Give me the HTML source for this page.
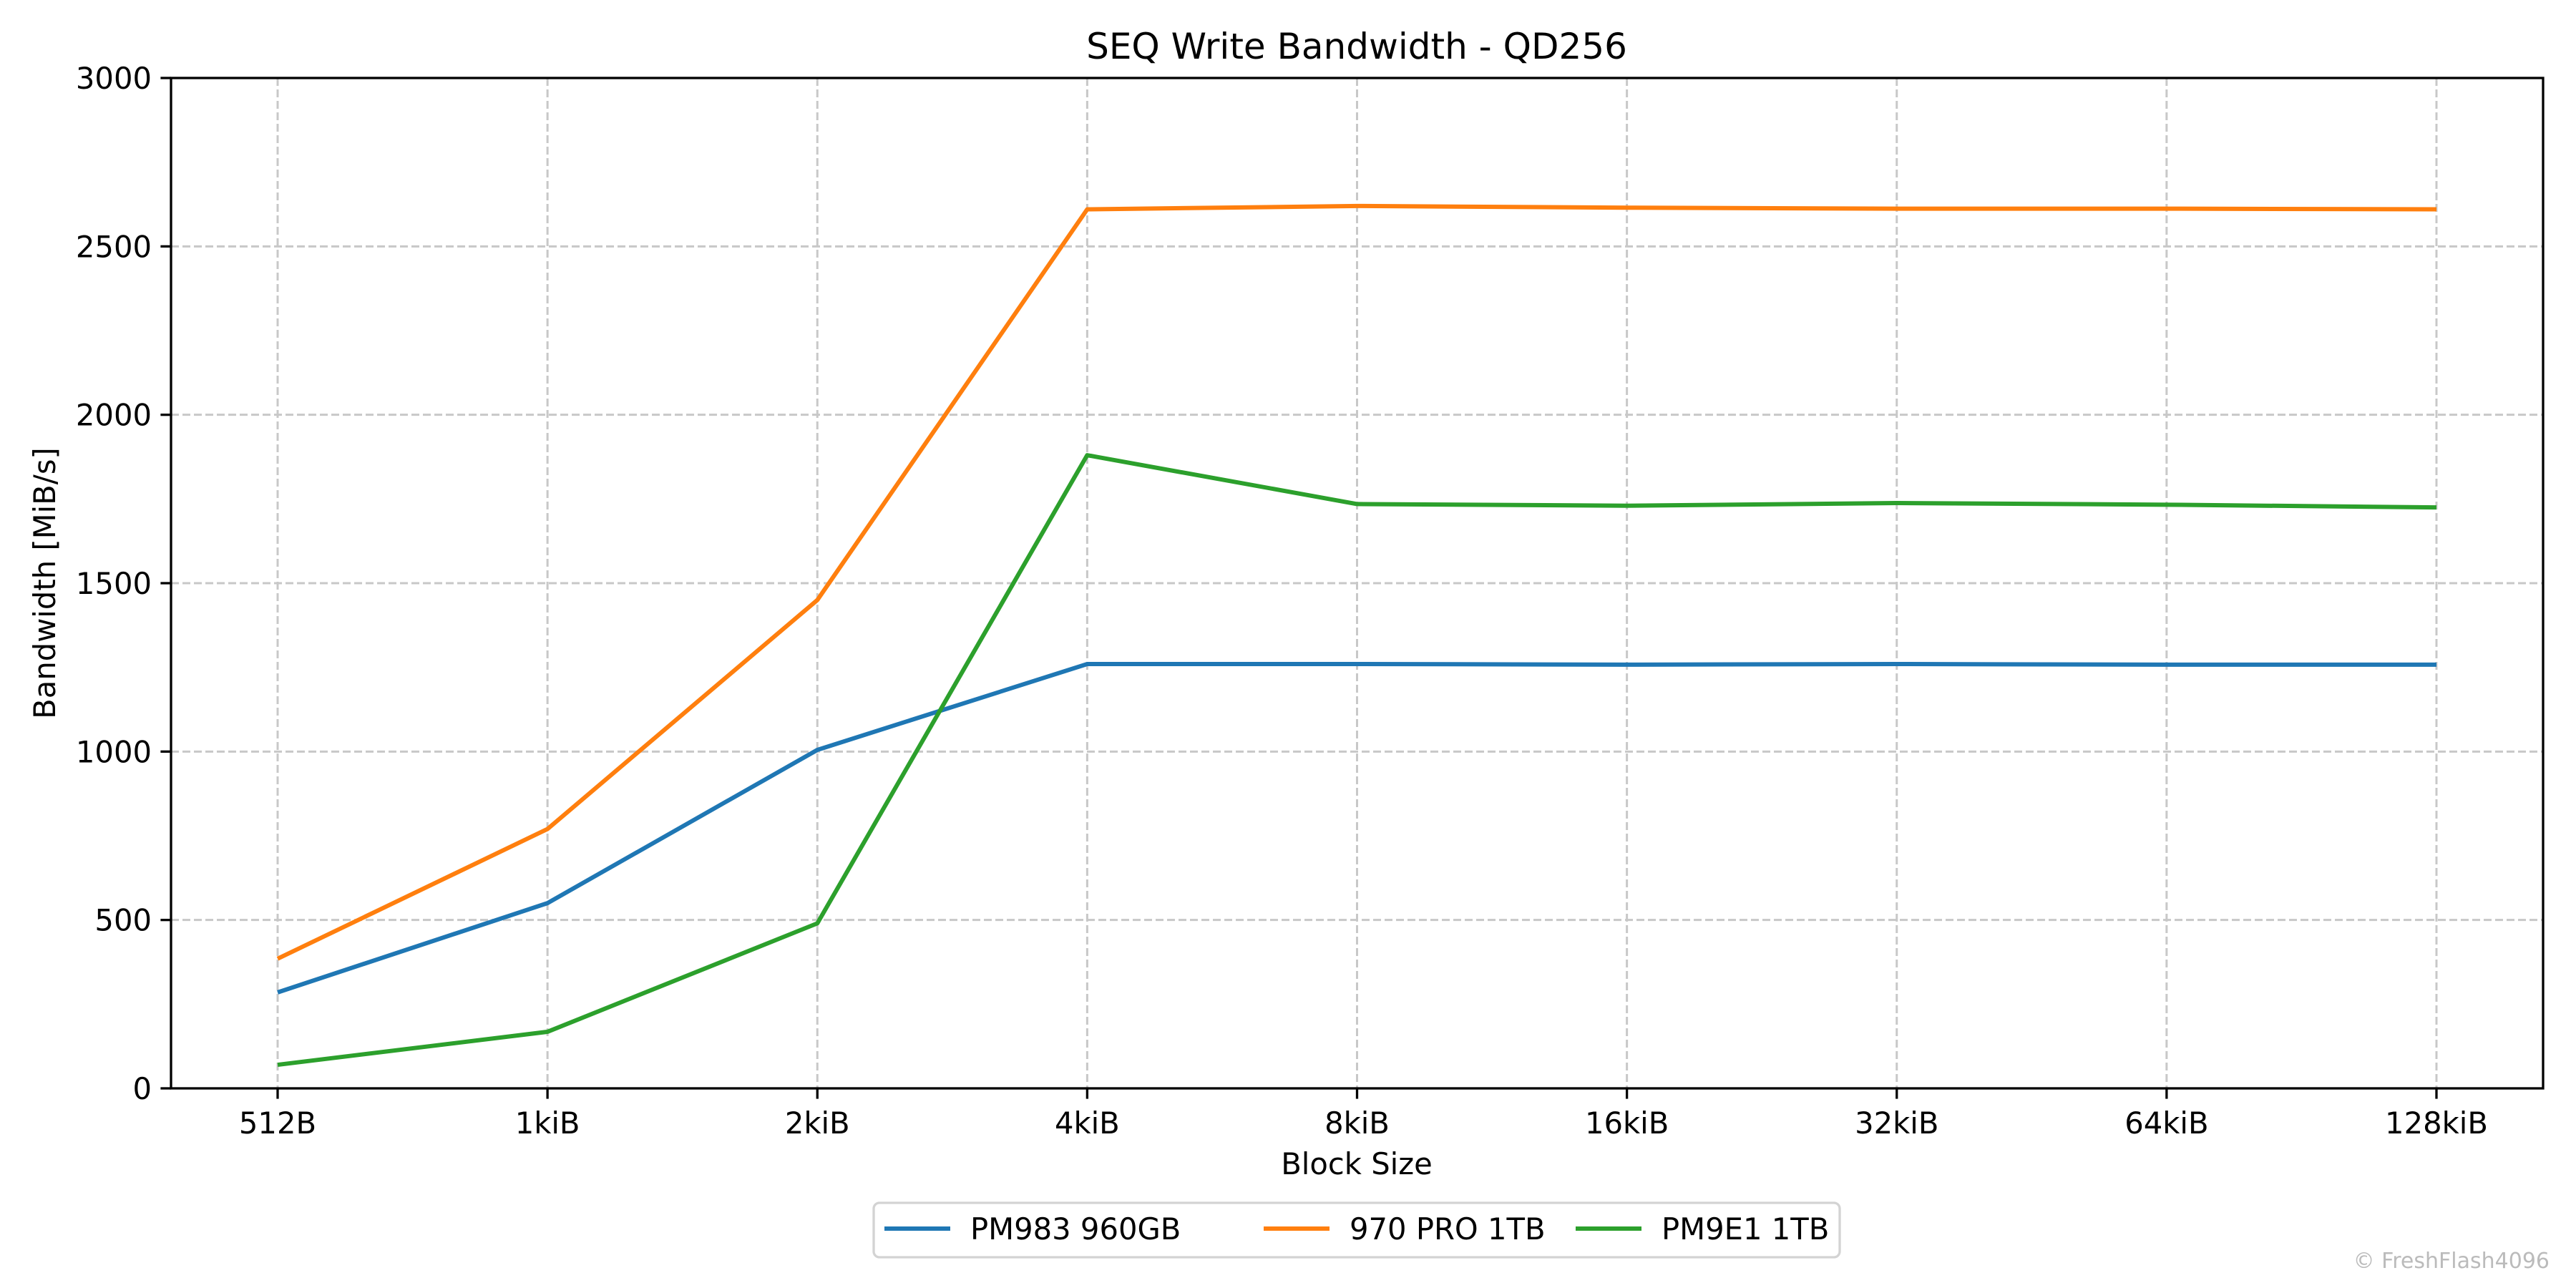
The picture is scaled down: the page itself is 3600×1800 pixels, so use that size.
<!DOCTYPE html>
<html><head><meta charset="utf-8"><style>
html,body{margin:0;padding:0;background:#fff;}
svg{display:block;font-family:"DejaVu Sans","Liberation Sans",sans-serif;}
</style></head><body>
<svg id="chart" width="3600" height="1800" viewBox="0 0 3600 1800" xmlns="http://www.w3.org/2000/svg">
<rect width="3600" height="1800" fill="#fff"/>
<g id="grid"></g>
<g id="series"></g>
<rect x="239" y="109" width="3315" height="1412" fill="none" stroke="#000" stroke-width="3.3"/>
<g id="ticks"></g>
<text x="1896" y="82" font-size="50" text-anchor="middle">SEQ Write Bandwidth - QD256</text>
<text x="1896" y="1641" font-size="41.7" text-anchor="middle">Block Size</text>
<text transform="translate(77,815) rotate(-90)" font-size="41.7" text-anchor="middle">Bandwidth [MiB/s]</text>
<g>
<rect x="1221" y="1681" width="1350" height="76" rx="8" fill="#fff" stroke="#d3d3d3" stroke-width="3.3"/>
<g id="legend-entries"></g>
</g>
<text x="3563" y="1772" font-size="30" fill="#bbbbbb" text-anchor="end">© FreshFlash4096</text>
</svg>
<script>
const categories = ["512B","1kiB","2kiB","4kiB","8kiB","16kiB","32kiB","64kiB","128kiB"];
const seriesNames = ["PM983 960GB","970 PRO 1TB","PM9E1 1TB"];
const pm983 = [285,550,1005,1260,1260,1258,1260,1258,1258];
const pro970 = [385,770,1450,2610,2620,2615,2612,2612,2610];
const pm9e1 = [70,168,490,1880,1735,1730,1738,1733,1725];
const yTicks = [0,500,1000,1500,2000,2500,3000];
const colors = ["#1f77b4","#ff7f0e","#2ca02c"];
const NS="http://www.w3.org/2000/svg";
const L=239,R=3554,T=109,B=1521;
const x0=388, x1=3405;
function xs(i){return x0+(x1-x0)*i/(categories.length-1);}
function ys(v){return B-(B-T)*v/3000;}
function mk(tag,attrs,parent){const e=document.createElementNS(NS,tag);for(const k in attrs)e.setAttribute(k,attrs[k]);parent.appendChild(e);return e;}
const grid=document.getElementById('grid'),ticks=document.getElementById('ticks'),ser=document.getElementById('series');
categories.forEach((c,i)=>{
  const g=mk('line',{x1:xs(i),x2:xs(i),y1:T,y2:B,stroke:'#c8c8c8','stroke-width':3,'stroke-dasharray':'11 5'},grid);
  
  
  const t=mk('line',{x1:xs(i),x2:xs(i),y1:B,y2:B+14.6,stroke:'#000','stroke-width':3.3},ticks);
  
  
  const lb=mk('text',{x:xs(i),y:B+63,'font-size':41.7,'text-anchor':'middle'},ticks);
  lb.textContent=c;
  
  
});
yTicks.forEach(v=>{
  if(v>0&&v<3000){
    const g=mk('line',{x1:L,x2:R,y1:ys(v),y2:ys(v),stroke:'#c8c8c8','stroke-width':3,'stroke-dasharray':'11 5'},grid);
    
    
  }
  const t=mk('line',{x1:L-14.6,x2:L,y1:ys(v),y2:ys(v),stroke:'#000','stroke-width':3.3},ticks);
  
  
  const lb=mk('text',{x:L-27,y:ys(v)+15,'font-size':41.7,'text-anchor':'end'},ticks);
  lb.textContent=v;
  
  
});
[pm983,pro970,pm9e1].forEach((arr,s)=>{
  const pts=arr.map((v,i)=>xs(i)+','+ys(v)).join(' ');
  const p=mk('polyline',{points:pts,fill:'none',stroke:colors[s],'stroke-width':6,'stroke-linejoin':'round'},ser);
  
  
});
const le=document.getElementById('legend-entries');
const lx=[1236,1766,2202];
seriesNames.forEach((n,s)=>{
  const l=mk('line',{x1:lx[s],x2:lx[s]+92,y1:1717,y2:1717,stroke:colors[s],'stroke-width':6},le);
  
  
  const t=mk('text',{x:lx[s]+120,y:1732,'font-size':41.7},le);
  t.textContent=n;
  
  
});
</script>
</body></html>
